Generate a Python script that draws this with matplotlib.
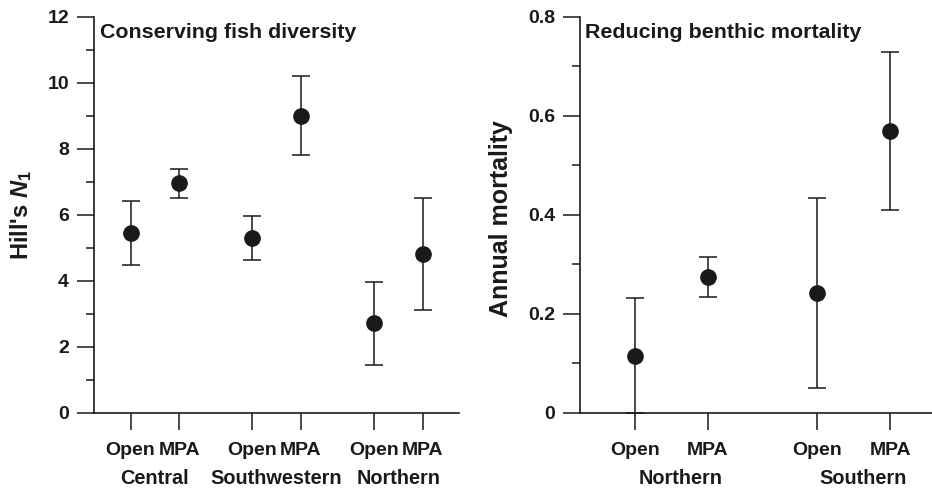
import matplotlib
matplotlib.use("Agg")
import matplotlib.pyplot as plt
import matplotlib.transforms as mtransforms
from matplotlib.ticker import MultipleLocator, FuncFormatter

# === Data ===
# Left panel: fish diversity (Hill's N1)
fish_regions = ["Central", "Southwestern", "Northern"]
fish_labels = ["Open", "MPA", "Open", "MPA", "Open", "MPA"]
fish_mean = [5.45, 6.97, 5.30, 9.00, 2.72, 4.82]
fish_low = [4.48, 6.52, 4.63, 7.82, 1.45, 3.12]
fish_high = [6.41, 7.40, 5.98, 10.20, 3.96, 6.52]

# Right panel: benthic annual mortality
mort_regions = ["Northern", "Southern"]
mort_labels = ["Open", "MPA", "Open", "MPA"]
mort_mean = [0.115, 0.275, 0.242, 0.570]
mort_low = [0.0, 0.235, 0.050, 0.410]
mort_high = [0.232, 0.315, 0.435, 0.730]

# === Style ===
plt.rcParams["font.family"] = ["Liberation Sans", "DejaVu Sans"]
plt.rcParams["font.weight"] = "bold"
plt.rcParams["mathtext.fontset"] = "custom"
plt.rcParams["mathtext.it"] = "Liberation Sans:bold:italic"
plt.rcParams["mathtext.rm"] = "Liberation Sans:bold"
plt.rcParams["mathtext.bf"] = "Liberation Sans:bold"

ink = "#1a1a1a"


def group_positions(n_groups):
    # pairs of ticks one unit apart, gap of 1.5 units between pairs
    xs = []
    for g in range(n_groups):
        start = 1 + g * 2.5
        xs += [start, start + 1]
    return xs


def tick_fmt(v, pos):
    if abs(v) < 1e-9:
        return "0"
    if abs(v - round(v)) < 1e-9:
        return "%d" % round(v)
    return "%.1f" % v


def style_axis(ax, major, minor):
    for s in ["top", "right"]:
        ax.spines[s].set_visible(False)
    for s in ["left", "bottom"]:
        ax.spines[s].set_linewidth(1.2)
        ax.spines[s].set_color(ink)
    ax.yaxis.set_major_locator(MultipleLocator(major))
    ax.yaxis.set_minor_locator(MultipleLocator(minor))
    ax.yaxis.set_major_formatter(FuncFormatter(tick_fmt))
    ax.tick_params(axis="y", which="major", direction="out", length=12, width=1.1,
                   color=ink, labelsize=14, pad=6, labelcolor=ink)
    ax.tick_params(axis="y", which="minor", direction="out", length=6, width=1.1, color=ink)
    ax.tick_params(axis="x", which="major", direction="out", length=12, width=1.1,
                   color=ink, labelsize=14, pad=9, labelcolor=ink)


def draw_points(ax, xs, mean, low, high):
    yerr = [[m - l for m, l in zip(mean, low)], [h - m for m, h in zip(mean, high)]]
    ax.errorbar(xs, mean, yerr=yerr, fmt="o", color=ink, ecolor=ink, markersize=11,
                elinewidth=1.1, capsize=6.5, capthick=1.1, clip_on=False, zorder=3)


fig = plt.figure(figsize=(9.32, 4.88), dpi=100)

# === Left panel ===
ax1 = fig.add_axes([0.1009, 0.1537, 0.3916, 0.8115])
x1 = group_positions(len(fish_regions))
draw_points(ax1, x1, fish_mean, fish_low, fish_high)
ax1.set_xlim(0.25, 7.75)
ax1.set_ylim(0, 12)
ax1.set_xticks(x1)
ax1.set_xticklabels(fish_labels)
style_axis(ax1, 2, 1)
ax1.set_ylabel("Hill's $N_1$", fontsize=17, fontweight="bold", color=ink)
ax1.yaxis.set_label_coords(-0.165, 0.5)
ax1.text(0.016, 0.947, "Conserving fish diversity", transform=ax1.transAxes,
         fontsize=15.4, fontweight="bold", color=ink, va="baseline", ha="left")
trans1 = mtransforms.blended_transform_factory(ax1.transData, ax1.transAxes)
for i, name in enumerate(fish_regions):
    cx = (x1[2 * i] + x1[2 * i + 1]) / 2
    ax1.text(cx, -0.166, name, transform=trans1, ha="center", va="center",
             fontsize=14.3, fontweight="bold", color=ink)

# === Right panel ===
ax2 = fig.add_axes([0.6223, 0.1537, 0.3777, 0.8115])
x2 = group_positions(len(mort_regions))
draw_points(ax2, x2, mort_mean, mort_low, mort_high)
ax2.set_xlim(0.25, 5.07)
ax2.set_ylim(0, 0.8)
ax2.set_xticks(x2)
ax2.set_xticklabels(mort_labels)
style_axis(ax2, 0.2, 0.1)
ax2.set_ylabel("Annual mortality", fontsize=18, fontweight="bold", color=ink)
ax2.yaxis.set_label_coords(-0.19, 0.49)
ax2.text(0.014, 0.947, "Reducing benthic mortality", transform=ax2.transAxes,
         fontsize=15.4, fontweight="bold", color=ink, va="baseline", ha="left")
trans2 = mtransforms.blended_transform_factory(ax2.transData, ax2.transAxes)
for i, name in enumerate(mort_regions):
    cx = (x2[2 * i] + x2[2 * i + 1]) / 2 + 0.13
    ax2.text(cx, -0.166, name, transform=trans2, ha="center", va="center",
             fontsize=14.3, fontweight="bold", color=ink)

fig.savefig("out.png", dpi=100)
plt.close(fig)
print("Saved: out.png")
